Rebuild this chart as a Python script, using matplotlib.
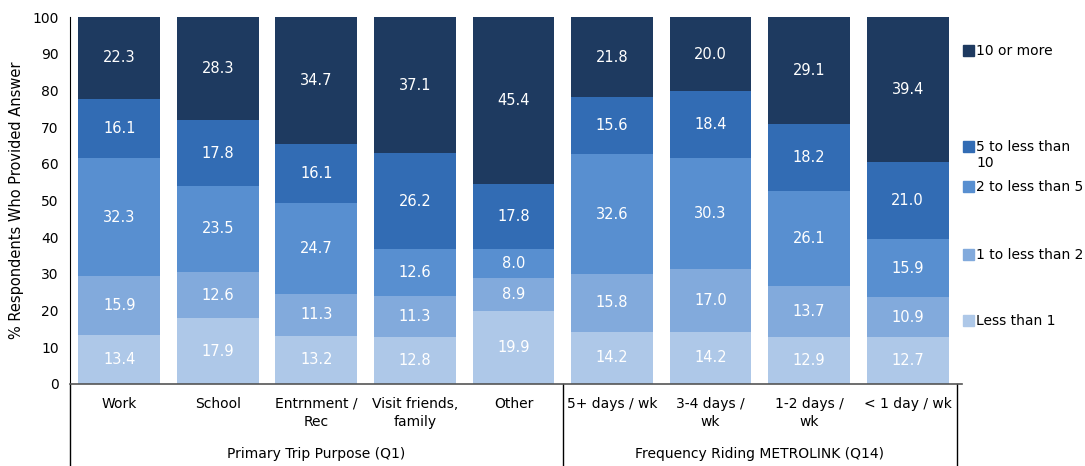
import numpy as np
import matplotlib.pyplot as plt
import matplotlib.transforms as mtransforms
from matplotlib.patches import Rectangle

# ---------------- data ----------------
categories = ["Work", "School", "Entrnment /\nRec", "Visit friends,\nfamily", "Other",
              "5+ days / wk", "3-4 days /\nwk", "1-2 days /\nwk", "< 1 day / wk"]
groups = ["Primary Trip Purpose (Q1)", "Frequency Riding METROLINK (Q14)"]
group_sizes = [5, 4]

series_names = ["Less than 1", "1 to less than 2", "2 to less than 5",
                "5 to less than\n10", "10 or more"]
less_1   = [13.4, 17.9, 13.2, 12.8, 19.9, 14.2, 14.2, 12.9, 12.7]
one_two  = [15.9, 12.6, 11.3, 11.3, 8.9, 15.8, 17.0, 13.7, 10.9]
two_five = [32.3, 23.5, 24.7, 12.6, 8.0, 32.6, 30.3, 26.1, 15.9]
five_ten = [16.1, 17.8, 16.1, 26.2, 17.8, 15.6, 18.4, 18.2, 21.0]
ten_plus = [22.3, 28.3, 34.7, 37.1, 45.4, 21.8, 20.0, 29.1, 39.4]
series = [less_1, one_two, two_five, five_ten, ten_plus]
colors = ["#aec8e8", "#82aadc", "#588fd0", "#326cb4", "#1e3a60"]

# ---------------- plot ----------------
fig = plt.figure(figsize=(10.85, 4.66), dpi=100)
ax = fig.add_axes([0.0645, 0.176, 0.822, 0.7875])

x = np.arange(len(categories))
bottom = np.zeros(len(categories))
for vals, col in zip(series, colors):
    vals = np.array(vals)
    ax.bar(x, vals, bottom=bottom, width=0.83, color=col, edgecolor="none")
    for xi, b, v in zip(x, bottom, vals):
        ax.text(xi, b + v / 2, f"{v:.1f}", ha="center", va="center",
                color="white", fontsize=10.5)
    bottom += vals

ax.set_xlim(-0.5, 8.55)
ax.set_ylim(0, 100)
ax.set_yticks(range(0, 101, 10))
ax.tick_params(axis="y", length=0, labelsize=10, pad=8)
ax.tick_params(axis="x", length=0)
ax.set_xticks([])
for s in ["top", "right"]:
    ax.spines[s].set_visible(False)
ax.spines["bottom"].set_color("#555555")
ax.spines["bottom"].set_linewidth(1.2)
ax.spines["left"].set_color("black")
ax.set_ylabel("% Respondents Who Provided Answer", fontsize=10.5, labelpad=6)

# category + group labels below axis
trans = mtransforms.blended_transform_factory(ax.transData, ax.transAxes)
for xi, lab in zip(x, categories):
    ax.text(xi, -0.035, lab, transform=trans, ha="center", va="top",
            fontsize=10, linespacing=1.35)

depth = -0.224
ax.plot([-0.5, -0.5], [0, depth], transform=trans, color="black", lw=1, clip_on=False)
start = -0.5
for g, n in zip(groups, group_sizes):
    end = start + n
    ax.plot([end, end], [0, depth], transform=trans, color="black", lw=1, clip_on=False)
    ax.text((start + end) / 2, -0.19, g, transform=trans, ha="center", va="center",
            fontsize=10)
    start = end

# legend, drawn by hand to match spacing
leg_y = [0.891, 0.685, 0.600, 0.454, 0.313]
for name, col, yy in zip(series_names[::-1], colors[::-1], leg_y[::-1][::-1]):
    pass
for name, col, yy in zip(series_names[::-1], colors[::-1], leg_y):
    fig.add_artist(Rectangle((0.8875, yy - 0.012), 0.0105, 0.024,
                             transform=fig.transFigure, color=col))
    fig.text(0.9, yy + 0.014, name, ha="left", va="top", fontsize=10, linespacing=1.2)

fig.savefig("out.png", dpi=100)
